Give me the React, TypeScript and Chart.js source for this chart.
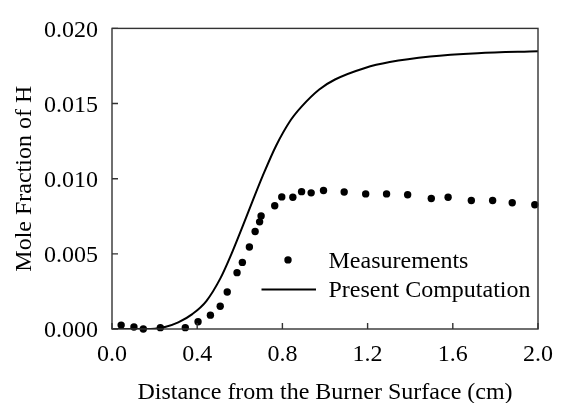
import React, { useEffect, useRef } from 'react';
import { Chart, registerables } from 'chart.js';

Chart.register(...registerables);

// Measured H mole fraction
const measX = [0.043, 0.103, 0.147, 0.227, 0.344, 0.404, 0.462, 0.508, 0.541, 0.587, 0.612, 0.645, 0.672, 0.693, 0.7, 0.764, 0.797, 0.849, 0.89, 0.935, 0.993, 1.09, 1.191, 1.289, 1.388, 1.499, 1.578, 1.687, 1.787, 1.879, 1.985];
const measY = [0.00026, 0.00013, 0.0, 0.00009, 0.00009, 0.00048, 0.00092, 0.00151, 0.00246, 0.00375, 0.00443, 0.00546, 0.00649, 0.00713, 0.00752, 0.0082, 0.00879, 0.00877, 0.00914, 0.00906, 0.00921, 0.00912, 0.00899, 0.00899, 0.00893, 0.00868, 0.00877, 0.00855, 0.00855, 0.0084, 0.00827];

// Present computation
const compX = [0, 0.1, 0.2, 0.253, 0.311, 0.377, 0.443, 0.51, 0.559, 0.609, 0.658, 0.708, 0.771, 0.84, 0.89, 0.973, 1.047, 1.188, 1.304, 1.494, 1.717, 2.0];
const compY = [0, 0, 0.00002, 0.00015, 0.00044, 0.00099, 0.00186, 0.0034, 0.00493, 0.00668, 0.00844, 0.0102, 0.01221, 0.01392, 0.0148, 0.01594, 0.0166, 0.01737, 0.01776, 0.01813, 0.01835, 0.01848];

const xTicks = [0, 0.4, 0.8, 1.2, 1.6, 2.0];
const yTicks = [0, 0.005, 0.01, 0.015, 0.02];
const seriesLabels = ['Measurements', 'Present Computation'];
const xTitle = 'Distance from the Burner Surface (cm)';
const yTitle = 'Mole Fraction of H';

const FONT = "'Liberation Serif', 'Times New Roman', serif";
const AXIS_COLOR = '#333333';

const frameAndLegend = {
  id: 'frameAndLegend',
  afterDatasetsDraw(chart: any) {
    const { ctx, chartArea } = chart;
    const { left, right, top, bottom } = chartArea;
    ctx.save();
    ctx.strokeStyle = AXIS_COLOR;
    ctx.lineWidth = 1.4;
    ctx.strokeRect(left, top, right - left, bottom - top);
    // inward ticks
    const xs = chart.scales.x;
    const ys = chart.scales.y;
    const tl = 6;
    ctx.beginPath();
    xs.ticks.forEach((t: any) => {
      const px = xs.getPixelForValue(t.value);
      ctx.moveTo(px, bottom);
      ctx.lineTo(px, bottom - tl);
    });
    ys.ticks.forEach((t: any) => {
      const py = ys.getPixelForValue(t.value);
      ctx.moveTo(left, py);
      ctx.lineTo(left + tl, py);
    });
    ctx.stroke();

    // legend
    const ds = chart.data.datasets;
    const textX = right - 209.5;
    ctx.font = `24px ${FONT}`;
    ctx.fillStyle = '#000';
    ctx.textAlign = 'left';
    ctx.textBaseline = 'middle';
    // measurements
    ctx.beginPath();
    ctx.arc(right - 250, top + 231.5, ds[0].pointRadius, 0, Math.PI * 2);
    ctx.fillStyle = ds[0].pointBackgroundColor;
    ctx.fill();
    ctx.fillStyle = '#000';
    ctx.fillText(ds[0].label, textX, top + 233.2);
    // computation
    ctx.beginPath();
    ctx.strokeStyle = ds[1].borderColor;
    ctx.lineWidth = ds[1].borderWidth;
    ctx.moveTo(right - 276.5, top + 261);
    ctx.lineTo(right - 222, top + 261);
    ctx.stroke();
    ctx.fillText(ds[1].label, textX, top + 262.2);
    ctx.restore();
  },
};

export default function App() {
  const ref = useRef<HTMLCanvasElement | null>(null);

  useEffect(() => {
    if (!ref.current) return;
    const chart = new Chart(ref.current, {
      type: 'scatter',
      data: {
        datasets: [
          {
            label: seriesLabels[0],
            data: measX.map((x, i) => ({ x, y: measY[i] })),
            pointRadius: 3.7,
            pointBackgroundColor: '#000000',
            pointBorderWidth: 0,
            borderColor: '#000000',
            showLine: false,
            clip: false,
          } as any,
          {
            label: seriesLabels[1],
            data: compX.map((x, i) => ({ x, y: compY[i] })),
            showLine: true,
            pointRadius: 0,
            borderColor: '#000000',
            borderWidth: 2,
            cubicInterpolationMode: 'monotone',
            fill: false,
          } as any,
        ],
      },
      options: {
        responsive: false,
        animation: false,
        layout: { padding: { top: 24, right: 17, left: 0, bottom: 0 } },
        plugins: {
          legend: { display: false },
          tooltip: { enabled: false },
        },
        scales: {
          x: {
            type: 'linear',
            min: 0,
            max: 2,
            afterBuildTicks: (s: any) => {
              s.ticks = xTicks.map((v) => ({ value: v }));
            },
            afterFit: (s: any) => {
              s.height = 74;
            },
            grid: { display: false, drawTicks: false },
            border: { display: false },
            ticks: {
              padding: 11,
              color: '#000',
              font: { family: FONT, size: 24 },
              maxRotation: 0,
              callback: (v: any) => Number(v).toFixed(1),
            },
            title: {
              display: true,
              text: xTitle,
              color: '#000',
              font: { family: FONT, size: 24, lineHeight: 1.2 },
              padding: { top: -4, bottom: -4 },
            },
          },
          y: {
            type: 'linear',
            min: 0,
            max: 0.02,
            afterBuildTicks: (s: any) => {
              s.ticks = yTicks.map((v) => ({ value: v }));
            },
            afterFit: (s: any) => {
              s.width = 112;
            },
            grid: { display: false, drawTicks: false },
            border: { display: false },
            ticks: {
              padding: 14,
              labelOffset: 2,
              color: '#000',
              font: { family: FONT, size: 24 },
              callback: (v: any) => Number(v).toFixed(3),
            },
            title: {
              display: true,
              text: yTitle,
              color: '#000',
              font: { family: FONT, size: 24, lineHeight: 1.2 },
              padding: { top: 10, bottom: 0 },
            },
          },
        },
      },
      plugins: [frameAndLegend],
    });
    return () => chart.destroy();
  }, []);

  return (
    <div style={{ position: 'absolute', left: 0, top: 0, width: 564, height: 403, background: '#fff' }}>
      <canvas ref={ref} width={564} height={403} style={{ display: 'block' }} />
    </div>
  );
}
